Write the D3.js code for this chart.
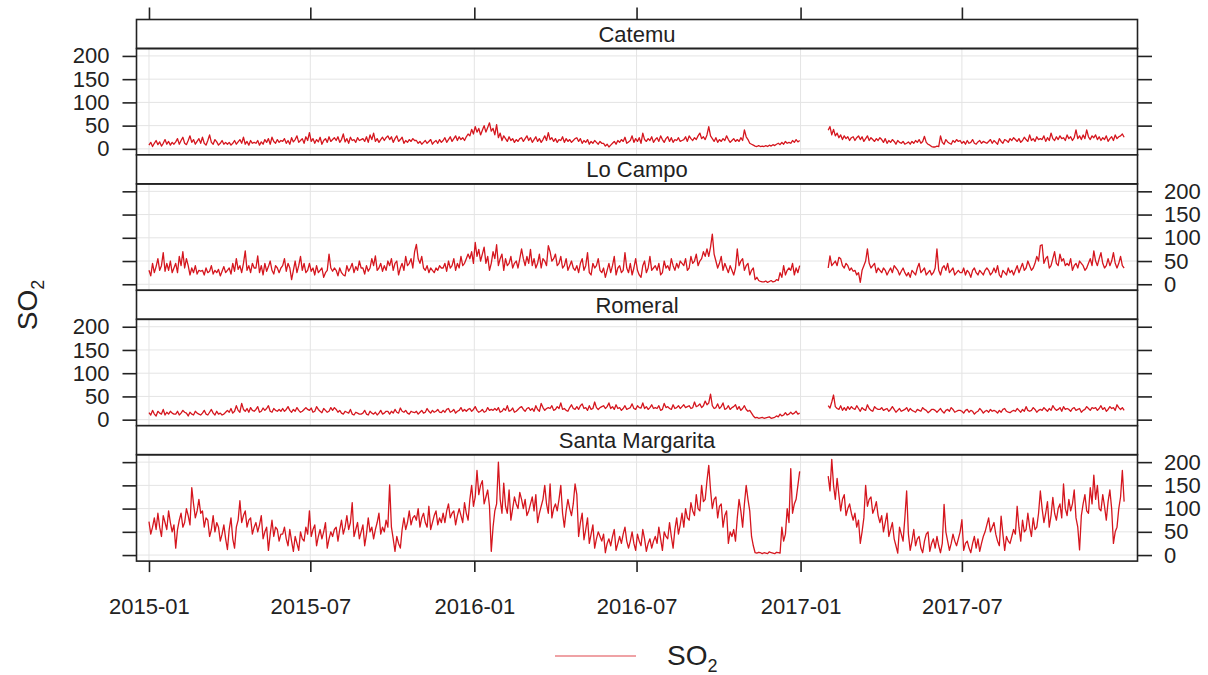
<!DOCTYPE html>
<html>
<head>
<meta charset="utf-8">
<script src="https://cdn.jsdelivr.net/npm/d3@7"></script>
<style>
  html, body { margin: 0; padding: 0; background: #fff; }
  svg { display: block; font-family: "Liberation Sans", Arial, sans-serif; }
</style>
</head>
<body>
<svg id="chart" width="1208" height="675"></svg>
<script>
// SO2 at four monitoring sites, one reading every second day.
// Each site has a 2015-2016 run and a 2017 run (January 2017 is missing).
// Rows below hold 30 days each.
const sites = ["Catemu", "Lo Campo", "Romeral", "Santa Margarita"];
const yTicks = [0, 50, 100, 150, 200];
const xTickLabels = ["2015-01", "2015-07", "2016-01", "2016-07", "2017-01", "2017-07"];
const runStarts = ["2015-01-01", "2017-02-01"];
const stepDays = 2;

const catemuA = [
  8,14,5,12,18,9,15,6,12,20,10,16,8,14,10,
  15,22,10,18,25,12,9,18,28,14,20,10,16,22,12,
  25,12,8,18,30,14,10,20,15,8,12,18,10,14,10,
  14,8,12,18,10,15,20,12,25,10,16,8,18,12,14,
  12,18,8,15,10,20,14,22,10,25,16,12,20,14,18,
  16,22,12,18,10,24,15,20,28,14,18,22,12,26,18,
  35,16,22,12,20,15,25,10,18,22,14,26,16,20,24,
  18,26,14,20,32,15,22,12,25,18,20,14,24,18,20,
  22,16,26,14,30,20,34,16,22,14,20,25,18,24,28,
  20,26,14,22,28,16,20,25,12,18,14,20,16,22,18,
  18,12,16,10,14,18,12,16,20,10,15,18,12,20,14,
  18,24,14,20,26,16,22,28,18,26,20,24,18,26,32,
  28,42,32,48,36,44,30,40,50,36,46,56,38,44,30,
  52,24,34,18,28,22,16,26,18,22,14,20,16,22,24,
  16,22,28,18,24,14,20,26,16,22,14,20,28,18,35,
  20,24,16,22,14,20,18,26,14,22,16,20,14,18,22,
  24,16,22,12,18,14,20,10,16,12,18,14,10,16,12,
  12,6,10,4,8,12,16,10,18,14,20,16,25,12,15,
  18,28,14,22,16,24,12,34,20,16,22,18,26,14,20,
  24,16,28,20,14,22,26,16,24,14,20,18,24,16,18,
  20,26,16,28,22,18,24,20,28,34,22,26,20,30,48,
  28,22,16,24,14,20,16,22,18,28,20,14,18,22,16,
  20,16,24,18,41,26,20,12,10,8,6,5,7,5,6,
  5,7,5,8,6,9,7,10,12,9,14,10,16,12,14,
  12,18,14,20,15,18
];
const catemuB = [
  40,48,30,42,28,34,24,30,20,28,22,26,18,24,26,
  18,24,28,20,26,16,22,28,18,24,20,16,22,18,24,
  20,14,22,12,18,14,20,16,10,18,14,12,16,10,12,
  15,10,16,12,18,14,20,12,16,27,14,10,8,5,4,
  4,6,5,28,14,10,20,15,12,10,18,14,20,16,18,
  12,16,10,18,12,14,20,12,10,15,18,12,16,14,12,
  16,20,12,18,14,10,22,16,12,20,18,14,22,18,24,
  20,16,22,14,18,25,20,16,30,18,22,16,26,20,22,
  20,28,16,24,18,34,22,18,26,20,28,22,24,18,30,
  22,26,18,24,41,22,28,20,30,22,41,26,20,28,24,
  30,20,26,18,24,20,28,16,22,26,18,30,22,26,28,
  32,25
];

const loCampoA = [
  30,18,45,25,38,55,30,40,68,28,45,30,50,25,35,
  45,25,60,40,70,35,55,40,20,35,25,40,22,30,28,
  30,20,35,25,28,40,22,30,25,32,18,28,38,25,30,
  35,22,45,28,55,32,40,25,45,72,30,40,25,45,35,
  35,61,25,40,20,45,28,38,50,30,22,40,35,25,35,
  40,55,28,45,35,10,30,50,25,40,60,30,45,25,30,
  45,28,35,20,40,25,30,35,15,25,30,65,35,28,35,
  30,18,35,25,20,18,40,28,35,45,25,38,30,50,35,
  35,22,40,28,35,55,40,61,30,35,45,28,40,30,50,
  40,55,30,45,50,20,35,45,30,60,40,45,55,35,70,
  86,55,45,60,35,30,40,25,35,30,25,35,30,40,35,
  35,45,28,50,35,40,55,30,45,35,60,40,45,55,65,
  55,70,45,90,60,75,50,65,80,45,60,30,45,70,55,
  85,40,55,65,30,55,40,45,60,35,45,50,35,55,76,
  55,40,60,45,75,40,55,35,45,65,35,55,50,40,83,
  70,50,55,65,40,45,60,35,40,55,30,40,50,35,30,
  40,25,45,55,30,40,68,25,20,45,35,40,55,30,25,
  35,15,30,45,25,40,60,20,35,40,25,30,68,35,25,
  45,20,35,55,30,20,15,40,50,25,35,60,30,35,40,
  30,45,20,25,50,35,40,30,55,40,30,45,35,50,45,
  40,55,30,35,60,45,50,65,40,50,55,70,60,76,60,
  80,108,65,50,35,45,60,30,45,35,25,40,30,20,35,
  76,40,50,55,30,40,45,20,30,35,10,15,8,6,5,
  5,7,4,6,8,5,6,10,8,25,15,40,20,30,35,
  30,45,20,35,25,40
];
const loCampoB = [
  35,61,40,45,50,40,58,55,40,35,45,40,30,35,28,
  30,20,25,4,30,40,50,76,45,35,40,45,25,35,30,
  25,35,30,20,28,35,25,40,35,30,20,28,35,25,18,
  25,15,30,25,20,35,45,25,30,35,20,25,30,20,25,
  35,76,30,20,35,40,30,45,25,30,35,20,25,30,25,
  25,35,20,30,25,15,30,35,25,20,30,25,20,30,35,
  30,20,25,35,25,40,20,15,30,25,20,35,25,30,20,
  30,40,25,35,45,30,35,50,40,30,35,45,60,50,83,
  85,45,55,60,35,40,55,70,45,40,65,50,55,40,45,
  40,55,30,40,45,35,50,45,40,30,35,45,55,40,72,
  50,40,55,68,45,35,40,55,40,50,68,45,35,45,60,
  40,35
];

const romeralA = [
  15,10,20,12,8,18,14,12,22,10,16,12,18,14,12,
  12,18,10,14,20,16,14,8,16,12,10,18,14,12,10,
  14,20,12,10,16,22,14,10,18,12,14,10,12,16,20,
  16,24,14,18,30,20,16,35,22,18,24,16,26,20,18,
  22,28,16,18,25,20,24,30,18,16,24,20,18,22,18,
  24,18,22,28,20,16,22,18,26,20,16,18,22,26,22,
  20,25,16,18,28,22,18,15,24,20,16,18,26,20,26,
  22,16,20,14,12,18,16,14,22,12,10,16,14,12,12,
  14,20,12,10,18,14,12,16,10,14,20,12,14,18,18,
  12,18,14,22,16,14,25,18,16,20,14,12,18,16,15,
  18,12,16,20,14,16,24,18,14,20,16,18,22,16,15,
  20,16,22,24,16,18,22,14,18,20,26,18,22,18,22,
  24,18,22,28,20,16,18,22,16,18,26,20,22,20,24,
  20,26,16,18,24,20,30,18,20,25,16,18,22,26,28,
  22,18,24,26,20,24,18,30,22,18,35,26,20,24,26,
  24,30,20,22,28,24,36,22,24,20,18,26,32,24,22,
  28,22,30,34,24,26,20,30,22,24,38,26,22,26,28,
  30,24,28,36,24,28,22,32,24,26,20,24,30,22,24,
  26,34,24,22,30,26,25,36,24,28,22,26,32,24,26,
  24,30,20,22,35,26,28,24,22,32,24,26,30,24,28,
  32,26,28,30,24,26,38,28,30,34,26,30,40,32,36,
  55,30,24,26,34,24,28,36,22,24,30,22,26,28,32,
  22,28,20,24,30,22,18,20,14,8,4,5,3,4,5,
  3,4,5,6,3,4,5,8,6,12,8,10,15,10,12,
  16,12,14,18,12,14
];
const romeralB = [
  30,25,38,53,28,24,22,30,20,26,20,28,22,28,24,
  22,30,24,18,26,22,20,32,24,20,18,28,24,22,22,
  26,20,22,24,18,22,28,22,16,20,24,18,20,22,26,
  18,24,20,18,16,22,20,18,26,22,20,15,18,22,22,
  20,16,20,24,18,14,20,22,18,26,22,16,18,20,20,
  18,14,20,22,16,20,18,12,16,18,24,20,14,18,20,
  16,22,18,20,18,14,20,16,22,24,18,16,15,18,20,
  18,24,20,16,22,18,28,20,18,20,26,22,16,20,22,
  20,26,22,18,24,20,30,24,20,22,26,18,28,22,24,
  22,18,24,26,20,22,24,16,20,22,28,24,20,26,24,
  26,20,24,30,22,26,18,22,28,24,26,20,32,26,22,
  26,20
];

const santaMargaritaA = [
  72,45,60,80,55,90,60,40,85,70,55,95,70,50,65,
  15,55,75,90,60,70,100,85,65,145,110,80,95,120,90,
  95,60,80,75,40,55,85,50,70,60,30,45,65,35,12,
  55,80,35,15,60,75,117,70,85,95,60,75,80,45,60,
  70,50,65,85,35,50,60,10,45,75,40,60,55,30,45,
  45,60,35,20,55,30,8,40,25,10,50,35,30,60,45,
  95,40,55,65,20,40,55,35,50,70,15,35,50,40,55,
  60,30,55,75,45,60,85,55,70,113,40,55,70,35,50,
  65,20,45,80,50,60,35,55,70,90,45,60,50,75,60,
  151,60,35,8,40,25,15,55,80,55,70,95,65,80,85,
  75,100,60,80,90,70,60,105,55,70,85,95,65,80,70,
  90,70,95,110,80,90,95,65,85,100,85,70,113,90,75,
  120,150,105,125,182,130,150,160,110,125,140,105,8,60,95,
  110,200,120,90,155,105,90,140,75,100,125,110,100,135,120,
  100,120,85,95,110,125,95,130,70,90,105,120,150,110,90,
  153,80,100,110,95,120,150,90,60,95,120,100,85,110,153,
  130,40,70,90,33,55,80,25,45,65,15,35,50,40,30,
  45,5,25,35,20,40,55,10,25,40,25,45,60,30,15,
  30,50,25,10,45,30,20,55,35,8,25,35,15,30,40,
  25,60,35,10,50,40,35,70,40,15,55,80,45,65,90,
  60,100,80,75,113,95,85,130,100,95,150,115,120,160,193,
  140,100,120,125,80,105,110,60,85,95,25,50,40,55,30,
  80,120,95,60,110,150,120,95,40,20,5,4,6,5,3,
  5,4,3,7,5,4,3,6,5,4,60,30,45,100,70,
  186,90,110,120,150,180
];
const santaMargaritaB = [
  170,138,206,150,120,165,130,95,120,130,85,100,110,90,75,
  90,60,75,25,50,80,150,105,120,125,90,100,115,85,70,
  85,50,70,90,40,55,70,35,20,4,60,45,30,80,138,
  45,10,30,55,20,35,40,15,5,30,45,50,8,25,35,
  15,40,20,5,25,109,50,30,10,25,45,30,20,35,50,
  76,10,25,30,15,5,25,40,15,35,8,25,40,50,65,
  80,50,60,70,45,30,20,84,45,10,40,30,25,40,55,
  45,105,60,30,75,50,55,90,60,40,80,55,60,90,138,
  100,70,90,115,60,85,124,90,75,100,110,80,153,100,85,
  120,95,110,140,80,60,11,85,110,130,95,90,145,110,172,
  120,150,100,95,130,105,75,115,140,100,25,50,60,100,125,
  182,115
];

const siteRuns = [
  [catemuA, catemuB],
  [loCampoA, loCampoB],
  [romeralA, romeralB],
  [santaMargaritaA, santaMargaritaB]
];

// ---- layout ----
const svg = d3.select("#chart");
const W = 1208, H = 675;
const frameL = 136.5, frameR = 1137.5, frameT = 19.5;
const panelH = 135.4, stripH = 29;
const lineColor = "#d5161e";
const frameColor = "#222";
const gridColor = "#e4e4e4";
const fontSize = 22;

svg.append("rect").attr("width", W).attr("height", H).attr("fill", "#fff");

const parse = d3.utcParse("%Y-%m-%d");
const x = d3.scaleUtc()
  .domain([parse("2014-12-18"), parse("2018-01-14")])
  .range([frameL, frameR]);
const xTickDates = xTickLabels.map(s => d3.utcParse("%Y-%m")(s));

function runPoints(values, start) {
  const s = parse(start);
  return values.map((v, i) => ({ date: d3.utcDay.offset(s, i * stepDays), value: v }));
}

sites.forEach((name, i) => {
  const pTop = frameT + i * panelH;
  const plotTop = pTop + stripH;
  const plotBottom = pTop + panelH;
  const y = d3.scaleLinear().domain([-13, 216]).range([plotBottom, plotTop]);
  const g = svg.append("g");

  // grid
  g.selectAll(".hgrid").data(yTicks).join("line")
    .attr("x1", frameL).attr("x2", frameR)
    .attr("y1", d => y(d)).attr("y2", d => y(d))
    .attr("stroke", gridColor).attr("stroke-width", 1);
  g.selectAll(".vgrid").data(xTickDates).join("line")
    .attr("x1", d => x(d)).attr("x2", d => x(d))
    .attr("y1", plotTop).attr("y2", plotBottom)
    .attr("stroke", gridColor).attr("stroke-width", 1);

  // series
  const line = d3.line().x(d => x(d.date)).y(d => y(d.value));
  siteRuns[i].forEach((vals, k) => {
    g.append("path")
      .datum(runPoints(vals, runStarts[k]))
      .attr("d", line)
      .attr("fill", "none")
      .attr("stroke", lineColor)
      .attr("stroke-width", 1.3)
      .attr("stroke-linejoin", "round");
  });

  // strip
  g.append("rect")
    .attr("x", frameL).attr("y", pTop).attr("width", frameR - frameL).attr("height", stripH)
    .attr("fill", "#fff").attr("stroke", frameColor).attr("stroke-width", 1.6);
  g.append("text")
    .attr("x", (frameL + frameR) / 2).attr("y", pTop + stripH / 2 + 8)
    .attr("text-anchor", "middle").attr("font-size", fontSize).attr("fill", "#222")
    .text(name);

  // panel frame
  g.append("rect")
    .attr("x", frameL).attr("y", plotTop).attr("width", frameR - frameL).attr("height", plotBottom - plotTop)
    .attr("fill", "none").attr("stroke", frameColor).attr("stroke-width", 1.6);

  // y axes: ticks both sides, labels alternate
  const labelLeft = (i % 2 === 0);
  const axL = d3.axisLeft(y).tickValues(yTicks).tickSize(14).tickPadding(13)
    .tickFormat(labelLeft ? d3.format("d") : () => "");
  const axR = d3.axisRight(y).tickValues(yTicks).tickSize(14.5).tickPadding(12)
    .tickFormat(labelLeft ? () => "" : d3.format("d"));
  [[axL, frameL], [axR, frameR]].forEach(([ax, px]) => {
    const a = g.append("g").attr("transform", `translate(${px},0)`).call(ax);
    a.select(".domain").remove();
    a.selectAll("line").attr("stroke", frameColor).attr("stroke-width", 1.6);
    a.selectAll("text").attr("font-size", fontSize).attr("fill", "#222")
      .attr("font-family", "Liberation Sans, Arial, sans-serif");
  });
});

// x axes
const bottomY = frameT + 4 * panelH;
const axB = d3.axisBottom(x).tickValues(xTickDates).tickSize(11).tickPadding(26)
  .tickFormat((d, i) => xTickLabels[i]);
const gb = svg.append("g").attr("transform", `translate(0,${bottomY})`).call(axB);
gb.select(".domain").remove();
gb.selectAll("line").attr("stroke", frameColor).attr("stroke-width", 1.6);
gb.selectAll("text").attr("font-size", fontSize).attr("fill", "#222")
  .attr("font-family", "Liberation Sans, Arial, sans-serif");

const axT = d3.axisTop(x).tickValues(xTickDates).tickSize(12).tickFormat(() => "");
const gt = svg.append("g").attr("transform", `translate(0,${frameT})`).call(axT);
gt.select(".domain").remove();
gt.selectAll("line").attr("stroke", frameColor).attr("stroke-width", 1.6);

// y label
const yl = svg.append("text")
  .attr("transform", "translate(37,305) rotate(-90)")
  .attr("text-anchor", "middle").attr("font-size", 28).attr("fill", "#222");
yl.append("tspan").text("SO");
yl.append("tspan").attr("font-size", 18).attr("dy", 7).text("2");

// legend
svg.append("line")
  .attr("x1", 555).attr("x2", 636).attr("y1", 656).attr("y2", 656)
  .attr("stroke", "#e0474c").attr("stroke-width", 1.2);
const lg = svg.append("text").attr("x", 667).attr("y", 665)
  .attr("font-size", 28).attr("fill", "#222");
lg.append("tspan").text("SO");
lg.append("tspan").attr("font-size", 18).attr("dy", 7).text("2");
</script>
</body>
</html>
